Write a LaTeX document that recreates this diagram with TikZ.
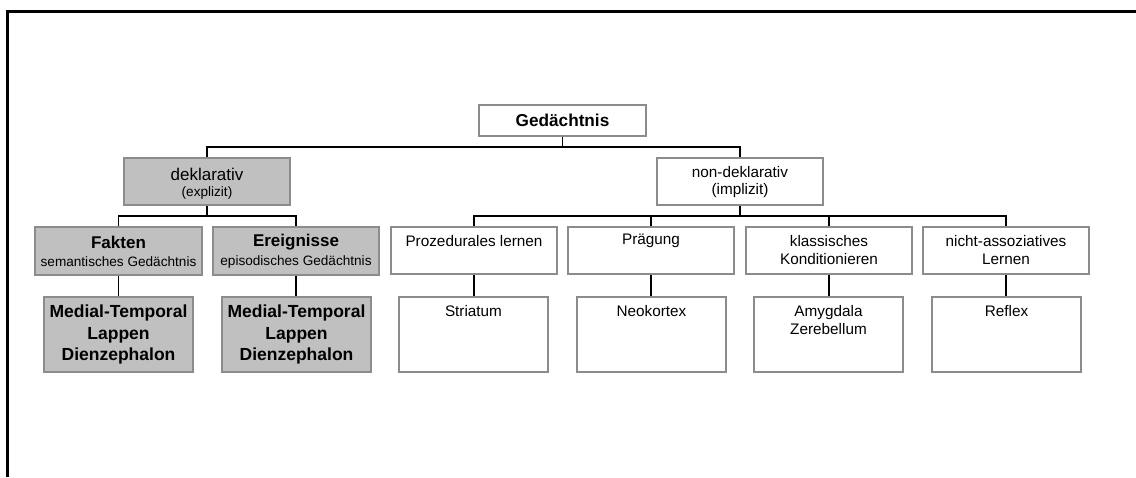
\documentclass[tikz,border=0pt]{standalone}
\usepackage{fontspec}
\setmainfont{Liberation Sans}
\definecolor{boxgray}{HTML}{8C8C8C}
\definecolor{fillgray}{HTML}{C0C0C0}
\tikzset{
  box/.style={draw=boxgray, line width=1.1pt, inner sep=0pt, align=center},
  wbox/.style={box, fill=white},
  gbox/.style={box, fill=fillgray},
  conn/.style={draw=black, line width=1.2pt},
  big/.style={font=\fontsize{17}{21}\selectfont},
  mid/.style={font=\fontsize{15.3}{18}\selectfont},
  small/.style={font=\fontsize{13.6}{16}\selectfont},
  txt/.style={inner sep=0pt, align=center},
}
\begin{document}
\begin{tikzpicture}[x=1pt,y=-1pt]
\useasboundingbox (0,0) rectangle (1136,477);
\draw[line width=3pt, black] (1136,11) -- (7,11) -- (7,477);

% level 0
\node[wbox, minimum width=167pt, minimum height=31pt, font=\fontsize{17.2}{21}\selectfont\bfseries] (ged) at (562.5,120.5) {Gedächtnis};

% level 1
\node[gbox, minimum width=166pt, minimum height=47pt] (dek) at (207,181.5) {};
\node[txt, big] (dekA) at (207,174) {deklarativ};
\node[txt, small] (dekB) at (207,193) {(explizit)};
\node[wbox, minimum width=166pt, minimum height=47pt] (ndek) at (740,181.5) {};
\node[txt, mid] (ndekA) at (740,172) {non-deklarativ};
\node[txt, mid] (ndekB) at (740,191) {(implizit)};

% level 2 left
\node[gbox, minimum width=167pt, minimum height=48pt] (fak) at (118.5,251) {};
\node[txt, font=\fontsize{17}{21}\selectfont\bfseries] (fakA) at (118.5,242) {Fakten};
\node[txt, small] (fakB) at (118.5,262) {semantisches Gedächtnis};
\node[gbox, minimum width=166pt, minimum height=48pt] (ere) at (296,251) {};
\node[txt, font=\fontsize{17}{21}\selectfont\bfseries] (ereA) at (296,242) {Ereignisse};
\node[txt, small] (ereB) at (296,262) {episodisches Gedächtnis};

% level 3 left
\node[gbox, minimum width=149pt, minimum height=75pt, font=\fontsize{17.5}{21.5}\selectfont\bfseries] (med1) at (118.5,334.5) {Medial-Temporal\\Lappen\\Dienzephalon};
\node[gbox, minimum width=149pt, minimum height=75pt, font=\fontsize{17.5}{21.5}\selectfont\bfseries] (med2) at (296.5,334.5) {Medial-Temporal\\Lappen\\Dienzephalon};

% level 2 right
\node[wbox, minimum width=166pt, minimum height=47pt] (proz) at (474,250.5) {};
\node[txt, mid] (prozT) at (474,241) {Prozedurales lernen};
\node[wbox, minimum width=166pt, minimum height=47pt] (praeg) at (651,250.5) {};
\node[txt, mid] (praegT) at (651,241) {Prägung};
\node[wbox, minimum width=166pt, minimum height=47pt] (klass) at (829,250.5) {};
\node[txt, mid] (klassT) at (829,250) {klassisches\\Konditionieren};
\node[wbox, minimum width=166pt, minimum height=47pt] (nicht) at (1006,250.5) {};
\node[txt, mid] (nichtT) at (1006,250) {nicht-assoziatives\\Lernen};

% level 3 right
\node[wbox, minimum width=149pt, minimum height=75pt] (str) at (473.5,334.5) {};
\node[txt, mid] (strT) at (473.5,311) {Striatum};
\node[wbox, minimum width=149pt, minimum height=75pt] (neo) at (651.5,334.5) {};
\node[txt, mid] (neoT) at (651.5,311) {Neokortex};
\node[wbox, minimum width=149pt, minimum height=75pt] (amy) at (828.5,334.5) {};
\node[txt, mid] (amyT) at (828.5,320) {Amygdala\\Zerebellum};
\node[wbox, minimum width=149pt, minimum height=75pt] (ref) at (1006.5,334.5) {};
\node[txt, mid] (refT) at (1006.5,311) {Reflex};

% junctions
\coordinate (j1) at (562.5,147);
\coordinate (j2) at (207,216);
\coordinate (j3) at (740,216);

% connectors
\draw[conn] (ged.south) -- (j1);
\draw[conn] (dek.north) |- (j1) -| (ndek.north);
\draw[conn] (dek.south) -- (j2);
\draw[conn] (fak.north) |- (j2) -| (ere.north);
\draw[conn] (ndek.south) -- (j3);
\draw[conn] (proz.north) |- (j3) -| (nicht.north);
\draw[conn] (praeg.north) -- (praeg.north |- j3);
\draw[conn] (klass.north) -- (klass.north |- j3);
\draw[conn] (fak.south) -- (med1.north -| fak.south);
\draw[conn] (ere.south) -- (med2.north -| ere.south);
\draw[conn] (proz.south) -- (str.north -| proz.south);
\draw[conn] (praeg.south) -- (neo.north -| praeg.south);
\draw[conn] (klass.south) -- (amy.north -| klass.south);
\draw[conn] (nicht.south) -- (ref.north -| nicht.south);
\end{tikzpicture}
\end{document}
